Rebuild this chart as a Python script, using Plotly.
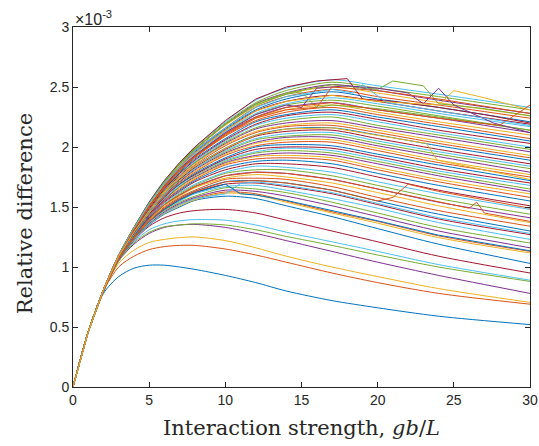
import plotly.graph_objects as go

x_grid = [0, 1, 2, 3, 4, 5, 6, 7, 8, 10, 12, 14, 17, 20, 24, 30]

# relative difference, in units of 1e-3 -- the separated lower curves
low_curves = [
    [0, .45, .78, .92, .99, 1.015, 1.015, 1.0, .98, .93, .87, .80, .72, .66, .59, .52],
    [0, .46, .80, 1.00, 1.09, 1.145, 1.17, 1.18, 1.18, 1.15, 1.10, 1.04, .95, .87, .78, .69],
    [0, .46, .80, 1.03, 1.14, 1.205, 1.23, 1.245, 1.25, 1.22, 1.16, 1.09, 1.00, .92, .82, .705],
    [0, .46, .80, 1.05, 1.19, 1.28, 1.33, 1.35, 1.355, 1.33, 1.28, 1.22, 1.13, 1.04, .93, .78],
    [0, .46, .80, 1.05, 1.20, 1.29, 1.335, 1.35, 1.36, 1.35, 1.31, 1.255, 1.18, 1.10, 1.00, .88],
    [0, .46, .80, 1.06, 1.21, 1.31, 1.36, 1.385, 1.395, 1.39, 1.35, 1.29, 1.21, 1.13, 1.02, .89],
    [0, .46, .80, 1.06, 1.22, 1.34, 1.41, 1.45, 1.47, 1.48, 1.45, 1.39, 1.30, 1.21, 1.09, .95],
    [0, .46, .80, 1.07, 1.23, 1.35, 1.44, 1.50, 1.555, 1.59, 1.57, 1.51, 1.42, 1.32, 1.19, 1.03],
    [0, .46, .80, 1.07, 1.23, 1.355, 1.45, 1.52, 1.57, 1.625, 1.61, 1.55, 1.46, 1.38, 1.26, 1.13],
    [0, .46, .80, 1.07, 1.23, 1.355, 1.445, 1.51, 1.56, 1.615, 1.60, 1.54, 1.45, 1.365, 1.245, 1.117],
]

# relative difference, in units of 1e-3 -- the dense upper bundle
band_curves = [
    [0, .46, .80, 1.07, 1.23, 1.36, 1.46, 1.53, 1.58, 1.64, 1.63, 1.59, 1.51, 1.42, 1.30, 1.16],
    [0, .46, .80, 1.07, 1.23, 1.37, 1.47, 1.54, 1.59, 1.66, 1.65, 1.62, 1.54, 1.45, 1.33, 1.20],
    [0, .46, .80, 1.07, 1.24, 1.37, 1.48, 1.55, 1.61, 1.67, 1.68, 1.64, 1.57, 1.49, 1.37, 1.23],
    [0, .46, .80, 1.07, 1.24, 1.38, 1.48, 1.56, 1.62, 1.69, 1.70, 1.67, 1.61, 1.52, 1.40, 1.27],
    [0, .46, .80, 1.07, 1.24, 1.38, 1.49, 1.57, 1.63, 1.71, 1.72, 1.70, 1.64, 1.55, 1.44, 1.30],
    [0, .46, .80, 1.08, 1.25, 1.39, 1.50, 1.58, 1.64, 1.73, 1.74, 1.73, 1.67, 1.58, 1.47, 1.34],
    [0, .46, .80, 1.08, 1.25, 1.39, 1.51, 1.59, 1.66, 1.74, 1.77, 1.75, 1.70, 1.62, 1.51, 1.37],
    [0, .46, .80, 1.08, 1.25, 1.40, 1.52, 1.60, 1.67, 1.76, 1.79, 1.78, 1.73, 1.65, 1.54, 1.41],
    [0, .46, .80, 1.08, 1.25, 1.40, 1.52, 1.61, 1.68, 1.78, 1.81, 1.81, 1.76, 1.68, 1.57, 1.44],
    [0, .46, .80, 1.08, 1.26, 1.41, 1.53, 1.62, 1.69, 1.79, 1.84, 1.83, 1.79, 1.71, 1.61, 1.48],
    [0, .46, .80, 1.08, 1.26, 1.41, 1.54, 1.63, 1.71, 1.81, 1.86, 1.86, 1.83, 1.75, 1.64, 1.51],
    [0, .46, .80, 1.08, 1.26, 1.42, 1.55, 1.64, 1.72, 1.83, 1.88, 1.89, 1.86, 1.78, 1.68, 1.55],
    [0, .46, .80, 1.08, 1.27, 1.43, 1.55, 1.65, 1.73, 1.85, 1.90, 1.91, 1.89, 1.81, 1.71, 1.58],
    [0, .46, .80, 1.08, 1.27, 1.43, 1.56, 1.66, 1.74, 1.86, 1.92, 1.93, 1.91, 1.83, 1.73, 1.61],
    [0, .46, .80, 1.08, 1.27, 1.43, 1.56, 1.67, 1.75, 1.87, 1.93, 1.95, 1.93, 1.86, 1.76, 1.63],
    [0, .46, .80, 1.08, 1.27, 1.44, 1.57, 1.67, 1.76, 1.88, 1.95, 1.97, 1.95, 1.88, 1.78, 1.65],
    [0, .46, .80, 1.08, 1.27, 1.44, 1.57, 1.68, 1.77, 1.89, 1.96, 1.99, 1.97, 1.90, 1.80, 1.68],
    [0, .46, .80, 1.08, 1.28, 1.44, 1.58, 1.69, 1.77, 1.90, 1.98, 2.00, 1.99, 1.92, 1.82, 1.70],
    [0, .46, .80, 1.08, 1.28, 1.45, 1.59, 1.69, 1.78, 1.91, 2.00, 2.02, 2.01, 1.94, 1.85, 1.72],
    [0, .46, .81, 1.09, 1.28, 1.45, 1.59, 1.70, 1.79, 1.93, 2.01, 2.04, 2.04, 1.97, 1.87, 1.75],
    [0, .46, .81, 1.09, 1.28, 1.45, 1.60, 1.71, 1.80, 1.94, 2.03, 2.06, 2.06, 1.99, 1.89, 1.77],
    [0, .46, .81, 1.09, 1.28, 1.46, 1.60, 1.71, 1.81, 1.95, 2.04, 2.08, 2.08, 2.01, 1.92, 1.79],
    [0, .46, .81, 1.09, 1.29, 1.46, 1.61, 1.72, 1.82, 1.96, 2.06, 2.09, 2.10, 2.03, 1.94, 1.82],
    [0, .46, .81, 1.09, 1.29, 1.46, 1.61, 1.73, 1.82, 1.97, 2.07, 2.11, 2.12, 2.05, 1.96, 1.84],
    [0, .46, .81, 1.09, 1.29, 1.47, 1.62, 1.73, 1.83, 1.98, 2.09, 2.13, 2.14, 2.07, 1.98, 1.86],
    [0, .46, .81, 1.09, 1.29, 1.47, 1.62, 1.74, 1.84, 1.99, 2.10, 2.15, 2.16, 2.10, 2.01, 1.89],
    [0, .46, .81, 1.09, 1.29, 1.48, 1.63, 1.75, 1.85, 2.01, 2.12, 2.17, 2.18, 2.12, 2.03, 1.91],
    [0, .46, .81, 1.09, 1.30, 1.48, 1.63, 1.75, 1.86, 2.02, 2.13, 2.18, 2.20, 2.14, 2.05, 1.93],
    [0, .46, .81, 1.09, 1.30, 1.48, 1.64, 1.76, 1.87, 2.03, 2.15, 2.20, 2.22, 2.16, 2.08, 1.96],
    [0, .46, .81, 1.09, 1.30, 1.49, 1.64, 1.77, 1.87, 2.04, 2.16, 2.22, 2.25, 2.18, 2.10, 1.98],
    [0, .46, .81, 1.09, 1.30, 1.49, 1.65, 1.78, 1.88, 2.05, 2.18, 2.24, 2.27, 2.21, 2.12, 2.00],
    [0, .46, .81, 1.09, 1.30, 1.49, 1.65, 1.78, 1.89, 2.06, 2.19, 2.26, 2.29, 2.23, 2.14, 2.03],
    [0, .46, .81, 1.09, 1.31, 1.50, 1.66, 1.79, 1.90, 2.07, 2.21, 2.27, 2.31, 2.25, 2.17, 2.05],
    [0, .46, .81, 1.09, 1.31, 1.50, 1.66, 1.80, 1.91, 2.09, 2.22, 2.29, 2.33, 2.27, 2.19, 2.07],
    [0, .46, .81, 1.09, 1.31, 1.50, 1.67, 1.80, 1.92, 2.10, 2.24, 2.31, 2.35, 2.29, 2.21, 2.10],
    [0, .46, .81, 1.10, 1.31, 1.51, 1.67, 1.81, 1.92, 2.11, 2.25, 2.33, 2.37, 2.31, 2.24, 2.12],
    [0, .46, .81, 1.10, 1.31, 1.51, 1.68, 1.82, 1.93, 2.12, 2.27, 2.35, 2.39, 2.34, 2.26, 2.14],
    [0, .46, .81, 1.10, 1.32, 1.52, 1.68, 1.82, 1.94, 2.13, 2.28, 2.36, 2.41, 2.36, 2.28, 2.17],
    [0, .46, .81, 1.10, 1.32, 1.52, 1.69, 1.83, 1.95, 2.14, 2.30, 2.38, 2.43, 2.38, 2.30, 2.19],
    [0, .46, .81, 1.10, 1.32, 1.52, 1.69, 1.84, 1.96, 2.15, 2.31, 2.40, 2.46, 2.40, 2.33, 2.21],
    [0, .46, .81, 1.10, 1.32, 1.53, 1.70, 1.84, 1.97, 2.16, 2.33, 2.42, 2.48, 2.42, 2.35, 2.24],
    [0, .46, .81, 1.10, 1.32, 1.53, 1.70, 1.85, 1.98, 2.18, 2.34, 2.44, 2.50, 2.45, 2.37, 2.26],
    [0, .46, .81, 1.10, 1.33, 1.53, 1.71, 1.86, 1.98, 2.19, 2.36, 2.45, 2.52, 2.47, 2.39, 2.28],
    [0, .46, .81, 1.10, 1.33, 1.54, 1.72, 1.86, 1.99, 2.20, 2.37, 2.47, 2.54, 2.49, 2.42, 2.31],
    [0, .46, .81, 1.10, 1.33, 1.54, 1.72, 1.87, 2.00, 2.21, 2.39, 2.49, 2.56, 2.51, 2.44, 2.33],
]

# curves that swap branches (zig-zags), each with its own x positions
kink_x = [
    [0, 1, 2, 3, 4, 5, 6, 7, 8, 10, 12, 14, 16, 18, 19, 21, 24, 27, 30],
    [0, 1, 2, 3, 4, 5, 6, 7, 8, 10, 12, 14, 15, 16, 17, 20, 24, 30],
    [0, 1, 2, 3, 4, 5, 6, 7, 8, 10, 12, 14, 17, 20, 21, 23, 24, 27, 30],
    [0, 1, 2, 3, 4, 5, 6, 7, 8, 10, 12, 14, 15, 16, 18, 20, 22, 23, 24, 25, 27.6, 30],
    [0, 1, 2, 3, 4, 5, 6, 7, 8, 10, 12, 14, 17, 20, 24, 25, 27, 30],
    [0, 1, 2, 3, 4, 5, 6, 7, 8, 10, 12, 14, 17, 20, 24, 28, 30],
    [0, 1, 2, 3, 4, 5, 6, 7, 8, 10, 11, 12, 14, 17, 20, 24, 30],
    [0, 1, 2, 3, 4, 5, 6, 7, 8, 10, 11, 12, 14, 17, 20, 24, 30],
    [0, 1, 2, 3, 4, 5, 6, 7, 8, 10, 12, 14, 17, 20, 24, 26, 26.5, 27, 30],
    [0, 1, 2, 3, 4, 5, 6, 7, 8, 10, 12, 14, 17, 20, 21, 22, 24, 30],
    [0, 1, 2, 3, 4, 5, 6, 7, 8, 10, 12, 14, 17, 18.4, 19, 20.6, 24, 30],
    [0, 1, 2, 3, 4, 5, 6, 7, 8, 10, 12, 14, 16, 17, 20, 24, 30],
    [0, 1, 2, 3, 4, 5, 6, 7, 8, 10, 12, 14, 17, 20, 23.2, 23.9, 30],
]
kink_y = [
    [0, .46, .81, 1.10, 1.33, 1.54, 1.72, 1.87, 2.00, 2.22, 2.40, 2.50, 2.55, 2.57, 2.40, 2.38, 2.33, 2.27, 2.20],
    [0, .46, .81, 1.10, 1.32, 1.53, 1.71, 1.86, 1.98, 2.19, 2.35, 2.44, 2.46, 2.33, 2.35, 2.32, 2.25, 2.14],
    [0, .46, .81, 1.10, 1.33, 1.53, 1.71, 1.86, 1.98, 2.19, 2.36, 2.45, 2.52, 2.48, 2.55, 2.51, 2.36, 2.32, 2.26],
    [0, .46, .81, 1.10, 1.31, 1.51, 1.68, 1.82, 1.93, 2.12, 2.27, 2.35, 2.33, 2.49, 2.51, 2.49, 2.45, 2.36, 2.49, 2.35, 2.20, 2.12],
    [0, .46, .81, 1.10, 1.32, 1.52, 1.69, 1.83, 1.95, 2.14, 2.30, 2.38, 2.43, 2.38, 2.35, 2.47, 2.41, 2.31],
    [0, .46, .81, 1.10, 1.31, 1.51, 1.67, 1.81, 1.92, 2.11, 2.25, 2.33, 2.37, 2.31, 2.24, 2.18, 2.35],
    [0, .46, .80, 1.07, 1.23, 1.355, 1.45, 1.52, 1.57, 1.61, 1.695, 1.71, 1.68, 1.62, 1.53, 1.41, 1.28],
    [0, .46, .80, 1.07, 1.24, 1.38, 1.48, 1.56, 1.62, 1.69, 1.61, 1.60, 1.555, 1.47, 1.385, 1.265, 1.135],
    [0, .46, .80, 1.08, 1.25, 1.40, 1.52, 1.60, 1.67, 1.76, 1.79, 1.78, 1.73, 1.65, 1.54, 1.49, 1.54, 1.45, 1.38],
    [0, .46, .80, 1.07, 1.24, 1.38, 1.49, 1.57, 1.63, 1.71, 1.72, 1.70, 1.64, 1.55, 1.58, 1.69, 1.63, 1.49],
    [0, .46, .81, 1.10, 1.32, 1.53, 1.70, 1.84, 1.97, 2.16, 2.33, 2.42, 2.48, 2.45, 2.52, 2.37, 2.30, 2.18],
    [0, .46, .81, 1.09, 1.31, 1.50, 1.67, 1.80, 1.92, 2.10, 2.24, 2.31, 2.33, 2.50, 2.47, 2.40, 2.28],
    [0, .46, .81, 1.09, 1.29, 1.47, 1.62, 1.74, 1.84, 1.99, 2.10, 2.15, 2.16, 2.10, 2.03, 1.89, 1.73],
]

x_ticks = [0, 5, 10, 15, 20, 25, 30]
y_ticks = [0, 0.5, 1, 1.5, 2, 2.5, 3]
y_tick_labels = ["0", "0.5", "1", "1.5", "2", "2.5", "3"]

# ---- styling ----
palette = ["#0072BD", "#D95319", "#EDB120", "#7E2F8E", "#77AC30", "#4DBEEE", "#A2142F"]
kink_colors = ["#A2142F", "#77AC30", "#77AC30", "#7E2F8E", "#EDB120", "#D95319", "#4DBEEE",
               "#0072BD", "#D95319", "#D95319", "#4DBEEE", "#D95319", "#EDB120"]

fig = go.Figure()
i = 0
for ys in low_curves + band_curves:
    fig.add_trace(go.Scatter(x=x_grid, y=ys, mode="lines",
                             line=dict(color=palette[i % 7], width=1, shape="spline", smoothing=0.8),
                             hoverinfo="skip"))
    i += 1
for xs, ys, c in zip(kink_x, kink_y, kink_colors):
    fig.add_trace(go.Scatter(x=xs, y=ys, mode="lines",
                             line=dict(color=c, width=1), hoverinfo="skip"))

axis_col = "#262626"
tick_font = dict(family="Liberation Sans, Arial, sans-serif", size=14, color=axis_col)
title_font = dict(family="DejaVu Serif, serif", size=21, color=axis_col)

fig.update_layout(
    width=539, height=446, autosize=False,
    margin=dict(l=73, r=9, t=27, b=59, autoexpand=False),
    paper_bgcolor="white", plot_bgcolor="white",
    showlegend=False,
    xaxis=dict(range=[0, 30], tickmode="array", tickvals=x_ticks, automargin=False,
               ticks="inside", ticklen=5, tickwidth=1, tickcolor=axis_col,
               mirror="ticks", showline=True, linecolor=axis_col, linewidth=1,
               showgrid=False, zeroline=False, tickfont=tick_font),
    yaxis=dict(range=[0, 3], tickmode="array", tickvals=y_ticks, ticktext=y_tick_labels,
               automargin=False,
               ticks="inside", ticklen=5, tickwidth=1, tickcolor=axis_col,
               mirror="ticks", showline=True, linecolor=axis_col, linewidth=1,
               showgrid=False, zeroline=False, tickfont=tick_font),
    annotations=[
        dict(text="×10<sup>-3</sup>", xref="paper", yref="paper", x=0, y=1,
             xanchor="left", yanchor="bottom", xshift=0, yshift=-3, showarrow=False,
             font=dict(family="Liberation Sans, Arial, sans-serif", size=16, color=axis_col)),
        dict(text="Interaction strength, <i>gb</i>/<i>L</i>", xref="paper", yref="paper",
             x=0.5, y=0, xanchor="center", yanchor="top", yshift=-27, showarrow=False,
             font=title_font),
        dict(text="Relative difference", xref="paper", yref="paper",
             x=-0.105, y=0.48, xanchor="center", yanchor="middle", textangle=-90,
             showarrow=False, font=title_font),
    ],
)

fig.write_html("out.html", config={"displayModeBar": False, "responsive": False},
               post_script="document.body.style.margin='0';")
